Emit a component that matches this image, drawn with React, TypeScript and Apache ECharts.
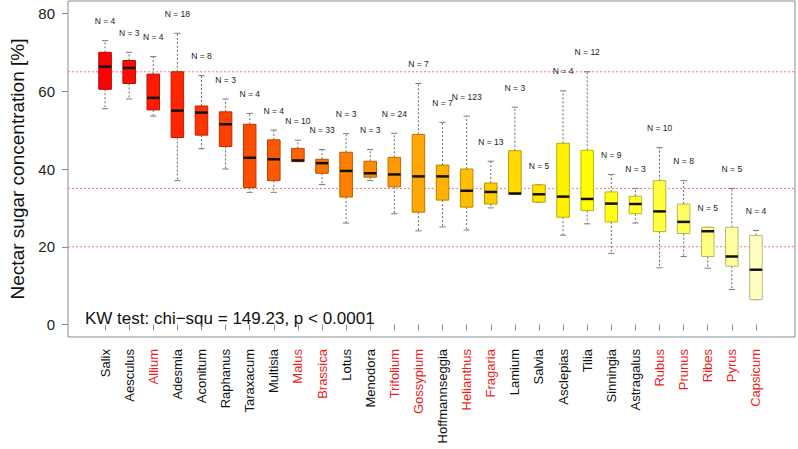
import React, { useEffect, useRef } from "react";
import * as echarts from "echarts";

const categories = [
  "Salix", "Aesculus", "Allium", "Adesmia", "Aconitum", "Raphanus", "Taraxacum",
  "Multisia", "Malus", "Brassica", "Lotus", "Menodora", "Trifolium", "Gossypium",
  "Hoffmannseggia", "Helianthus", "Fragaria", "Lamium", "Salvia", "Asclepias",
  "Tilia", "Sinningia", "Astragalus", "Rubus", "Prunus", "Ribes", "Pyrus", "Capsicum",
];
const cropGenera = [
  "Allium", "Malus", "Brassica", "Trifolium", "Gossypium", "Helianthus", "Fragaria",
  "Rubus", "Prunus", "Ribes", "Pyrus", "Capsicum",
];
const whiskerLow = [55.5, 58.0, 53.6, 37.0, 45.2, 40.0, 34.0, 34.0, 41.9, 36.0, 26.1, 37.0, 28.5, 24.1, 25.1, 24.3, 30.0, 33.5, 31.5, 23.0, 25.9, 18.3, 26.1, 14.6, 17.5, 14.5, 9.0, 6.4];
const quartile1 = [60.5, 62.0, 55.2, 48.1, 48.7, 45.8, 35.2, 37.0, 41.9, 38.9, 32.8, 37.9, 35.4, 28.9, 32.0, 30.2, 31.0, 33.5, 31.5, 27.6, 29.3, 26.4, 28.5, 23.9, 23.4, 17.5, 15.0, 6.4];
const medians = [66.3, 66.0, 58.3, 55.0, 54.5, 51.5, 42.9, 42.5, 42.2, 41.5, 39.5, 38.9, 38.6, 38.1, 38.1, 34.4, 34.1, 33.7, 33.5, 32.9, 32.3, 31.1, 31.0, 29.1, 26.4, 24.0, 17.5, 14.1];
const quartile3 = [70.0, 67.9, 64.4, 65.0, 56.2, 54.7, 51.5, 47.5, 45.3, 42.5, 44.3, 42.0, 43.0, 48.9, 41.0, 40.0, 36.4, 44.7, 35.9, 46.6, 44.8, 34.1, 33.0, 37.0, 31.0, 25.0, 25.0, 22.9];
const whiskerHigh = [73.0, 70.0, 68.9, 74.9, 64.0, 58.0, 54.3, 50.0, 47.4, 45.0, 49.1, 45.0, 49.2, 62.0, 52.0, 53.6, 42.0, 55.9, 35.9, 60.1, 65.0, 38.6, 35.0, 45.5, 37.0, 25.0, 35.0, 24.2];
const sampleSizes = [4, 3, 4, 18, 8, 3, 4, 4, 10, 33, 3, 3, 24, 7, 7, 123, 13, 3, 5, 4, 12, 9, 3, 10, 8, 5, 5, 4];
const boxColors = [
  "#FF0000", "#FF0D00", "#FF1A00", "#FF2600", "#FF3300", "#FF4000", "#FF4D00",
  "#FF5900", "#FF6600", "#FF7300", "#FF8000", "#FF8C00", "#FF9900", "#FFA600",
  "#FFB300", "#FFBF00", "#FFCC00", "#FFD900", "#FFE500", "#FFF200", "#FFFF00",
  "#FFFF15", "#FFFF2A", "#FFFF40", "#FFFF60", "#FFFF80", "#FFFFA0", "#FFFFC0",
];
const referenceLines = [65, 35, 20];
const yTicks = [0, 20, 40, 60, 80];
const yMin = -3.2;
const yMax = 83.2;
const statText = "KW test: chi\u2212squ = 149.23, p < 0.0001";
const yTitle = "Nectar sugar concentration [%]";

const FONT = "'Liberation Sans', Arial, Helvetica, sans-serif";

function darken(hex: string, f: number): string {
  const n = parseInt(hex.slice(1), 16);
  const r = Math.round(((n >> 16) & 255) * f);
  const g = Math.round(((n >> 8) & 255) * f);
  const b = Math.round((n & 255) * f);
  return "rgb(" + r + "," + g + "," + b + ")";
}

export default function App() {
  const ref = useRef<HTMLDivElement>(null);
  useEffect(() => {
    if (!ref.current) return;
    const chart = echarts.init(ref.current, null, { renderer: "svg" });
    const boxData = categories.map((_, i) => [
      i, whiskerLow[i], quartile1[i], medians[i], quartile3[i], whiskerHigh[i], sampleSizes[i],
    ]);
    const option: any = {
      animation: false,
      backgroundColor: "#ffffff",
      textStyle: { fontFamily: FONT },
      grid: [
        { left: 66, right: 3, top: 1, bottom: 112, show: true, borderColor: "#8a8a8a", borderWidth: 1, backgroundColor: "transparent" },
        { left: 93, width: 675, top: 1, bottom: 112 },
      ],
      xAxis: [
        { type: "value", gridIndex: 0, min: 0, max: 1, show: false },
        {
          type: "category",
          gridIndex: 1,
          data: categories.map((c) => ({
            value: c,
            textStyle: { color: cropGenera.includes(c) ? "#ee1c1c" : "#111111" },
          })),
          boundaryGap: true,
          axisLine: { show: false },
          axisTick: { show: true, alignWithLabel: true, length: 6, lineStyle: { color: "#8a8a8a" } },
          axisLabel: { rotate: 90, interval: 0, fontSize: 13, margin: 12, fontFamily: FONT },
          splitLine: { show: false },
        },
      ],
      yAxis: [
        {
          type: "value",
          gridIndex: 0,
          min: yMin,
          max: yMax,
          axisLine: { show: false },
          axisTick: { show: true, length: 6, customValues: yTicks, lineStyle: { color: "#8a8a8a" } },
          axisLabel: { customValues: yTicks, fontSize: 15, color: "#222", margin: 13, fontFamily: FONT },
          splitLine: { show: false },
          name: yTitle,
          nameLocation: "middle",
          nameGap: 41,
          nameTextStyle: { fontSize: 19, color: "#111", fontFamily: FONT },
        },
        { type: "value", gridIndex: 1, min: yMin, max: yMax, show: false },
      ],
      series: [
        {
          type: "custom",
          xAxisIndex: 0,
          yAxisIndex: 0,
          data: referenceLines.map((v) => [0, v]),
          renderItem: (params: any, api: any) => {
            const cs = params.coordSys;
            const p = api.coord([0, api.value(1)]);
            return {
              type: "line",
              shape: { x1: cs.x, y1: p[1], x2: cs.x + cs.width, y2: p[1] },
              style: { stroke: "#f07a7a", lineWidth: 1, lineDash: [2, 2] },
              silent: true,
            };
          },
        },
        {
          type: "custom",
          xAxisIndex: 1,
          yAxisIndex: 1,
          data: boxData,
          renderItem: (params: any, api: any) => {
            const i = api.value(0);
            const band = api.size([1, 0])[0];
            const bw = band * 0.52;
            const cw = bw * 0.5;
            const pLo = api.coord([i, api.value(1)]);
            const pQ1 = api.coord([i, api.value(2)]);
            const pMed = api.coord([i, api.value(3)]);
            const pQ3 = api.coord([i, api.value(4)]);
            const pHi = api.coord([i, api.value(5)]);
            const pLab = api.coord([i, api.value(5) + 5]);
            const x = pMed[0];
            const fill = boxColors[i];
            const whisk = { stroke: "#6a6a6a", lineWidth: 1, lineDash: [2, 2] };
            const cap = { stroke: "#7a7a7a", lineWidth: 1 };
            return {
              type: "group",
              children: [
                { type: "line", shape: { x1: x, y1: pQ3[1], x2: x, y2: pHi[1] }, style: whisk },
                { type: "line", shape: { x1: x, y1: pQ1[1], x2: x, y2: pLo[1] }, style: whisk },
                { type: "line", shape: { x1: x - cw / 2, y1: pHi[1], x2: x + cw / 2, y2: pHi[1] }, style: cap },
                { type: "line", shape: { x1: x - cw / 2, y1: pLo[1], x2: x + cw / 2, y2: pLo[1] }, style: cap },
                {
                  type: "rect",
                  shape: { x: x - bw / 2, y: pQ3[1], width: bw, height: pQ1[1] - pQ3[1] },
                  style: { fill: fill, stroke: darken(fill, 0.72), lineWidth: 1 },
                },
                {
                  type: "line",
                  shape: { x1: x - bw / 2, y1: pMed[1], x2: x + bw / 2, y2: pMed[1] },
                  style: { stroke: "#111", lineWidth: 2.5 },
                },
                {
                  type: "text",
                  x: x,
                  y: pLab[1],
                  style: {
                    text: "N = " + api.value(6),
                    fontSize: 8.5,
                    fontFamily: FONT,
                    fill: "#222",
                    align: "center",
                    verticalAlign: "middle",
                  },
                },
              ],
            };
          },
        },
      ],
      graphic: [
        {
          type: "text",
          left: 85,
          top: 310,
          style: { text: statText, fontSize: 17, fontFamily: FONT, fill: "#111" },
        },
      ],
    };
    chart.setOption(option);
    return () => chart.dispose();
  }, []);
  return (
    <div
      ref={ref}
      style={{ position: "fixed", left: 0, top: 0, width: 798, height: 449, background: "#fff" }}
    />
  );
}
